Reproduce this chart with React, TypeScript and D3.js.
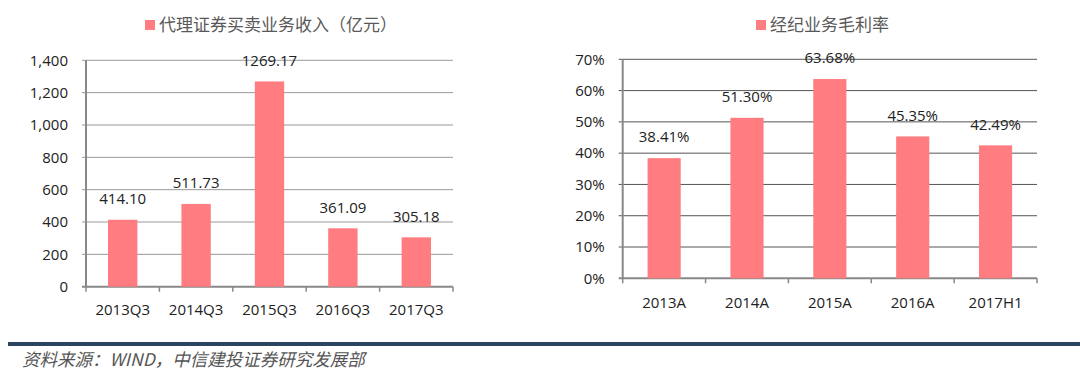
import * as d3 from 'd3';

// left chart: agency trading income (100m yuan)
const incomeCats = ['2013Q3', '2014Q3', '2015Q3', '2016Q3', '2017Q3'];
const incomeValues = [414.1, 511.73, 1269.17, 361.09, 305.18];
const incomeTicks = [0, 200, 400, 600, 800, 1000, 1200, 1400];

// right chart: brokerage gross margin
const marginCats = ['2013A', '2014A', '2015A', '2016A', '2017H1'];
const marginValues = [38.41, 51.3, 63.68, 45.35, 42.49];
const marginTicks = [0, 10, 20, 30, 40, 50, 60, 70];

const BAR = '#FF7C80';
const FONT = '"Open Sans", "Noto Sans CJK SC", sans-serif';

type PanelProps = {
  title: string;
  titleX: number;
  cats: string[];
  values: number[];
  ticks: number[];
  max: number;
  left: number;
  right: number;
  top: number;
  bottom: number;
  tickFmt: (d: number) => string;
  labelFmt: (d: number) => string;
  gridColor: string;
  xLabelY: number;
};

const Panel = (p: PanelProps) => {
  const x = d3.scaleBand().domain(p.cats).range([p.left, p.right]).paddingInner(0.6).paddingOuter(0.3);
  const y = d3.scaleLinear().domain([0, p.max]).range([p.bottom, p.top]);
  const band = (p.right - p.left) / p.cats.length;
  return (
    <g fontFamily={FONT}>
      {/* legend title */}
      <rect x={p.titleX} y={20} width={10} height={10} fill={BAR} />
      <text x={p.titleX + 14} y={31} fontSize={17} fill="#595959" fontFamily='"Noto Sans CJK SC", sans-serif'>
        {p.title}
      </text>
      {/* grid */}
      {p.ticks.map((t) => (
        <g key={t}>
          <line x1={p.left - 4} x2={p.right} y1={y(t)} y2={y(t)} stroke={t === 0 ? '#888' : p.gridColor} strokeWidth={t === 0 ? 2 : 1} />
          <text x={p.left - 18} y={y(t)} dy="0.35em" textAnchor="end" fontSize={15} fill="#222">
            {p.tickFmt(t)}
          </text>
        </g>
      ))}
      <line x1={p.left} x2={p.left} y1={p.top} y2={p.bottom} stroke="#888" strokeWidth={2} />
      {d3.range(p.cats.length + 1).map((i) => (
        <line key={i} x1={p.left + i * band} x2={p.left + i * band} y1={p.bottom} y2={p.bottom + 5} stroke="#888" strokeWidth={1.5} />
      ))}
      {/* bars */}
      {p.cats.map((c, i) => (
        <g key={c}>
          <rect x={x(c)} y={y(p.values[i])} width={x.bandwidth()} height={p.bottom - y(p.values[i])} fill={BAR} />
          <text x={(x(c) || 0) + x.bandwidth() / 2} y={y(p.values[i]) - 21} dy="0.35em" textAnchor="middle" fontSize={15} fill="#222">
            {p.labelFmt(p.values[i])}
          </text>
          <text x={(x(c) || 0) + x.bandwidth() / 2} y={p.xLabelY} dy="0.35em" textAnchor="middle" fontSize={15} fill="#222">
            {c}
          </text>
        </g>
      ))}
    </g>
  );
};

export default function App() {
  return (
    <svg width={1080} height={375} style={{ position: 'absolute', left: 0, top: 0, background: '#fff' }}>
      <rect width={1080} height={375} fill="#fff" />
      <Panel
        title="代理证券买卖业务收入（亿元）"
        titleX={145}
        cats={incomeCats}
        values={incomeValues}
        ticks={incomeTicks}
        max={1400}
        left={86}
        right={453}
        top={60.3}
        bottom={286.7}
        tickFmt={d3.format(',')}
        labelFmt={d3.format('.2f')}
        gridColor="#999"
        xLabelY={310}
      />
      <Panel
        title="经纪业务毛利率"
        titleX={756}
        cats={marginCats}
        values={marginValues}
        ticks={marginTicks}
        max={70}
        left={622.7}
        right={1037}
        top={59.3}
        bottom={278.3}
        tickFmt={(d) => d + '%'}
        labelFmt={(d) => d.toFixed(2) + '%'}
        gridColor="#555"
        xLabelY={303}
      />
      <line x1={8} x2={1080} y1={344} y2={344} stroke="#2b4560" strokeWidth={4} />
      <text x={22} y={366} fontSize={17.5} fontStyle="italic" fill="#555" fontFamily='"Noto Sans CJK SC", serif'>
        资料来源：WIND，中信建投证券研究发展部
      </text>
    </svg>
  );
}
